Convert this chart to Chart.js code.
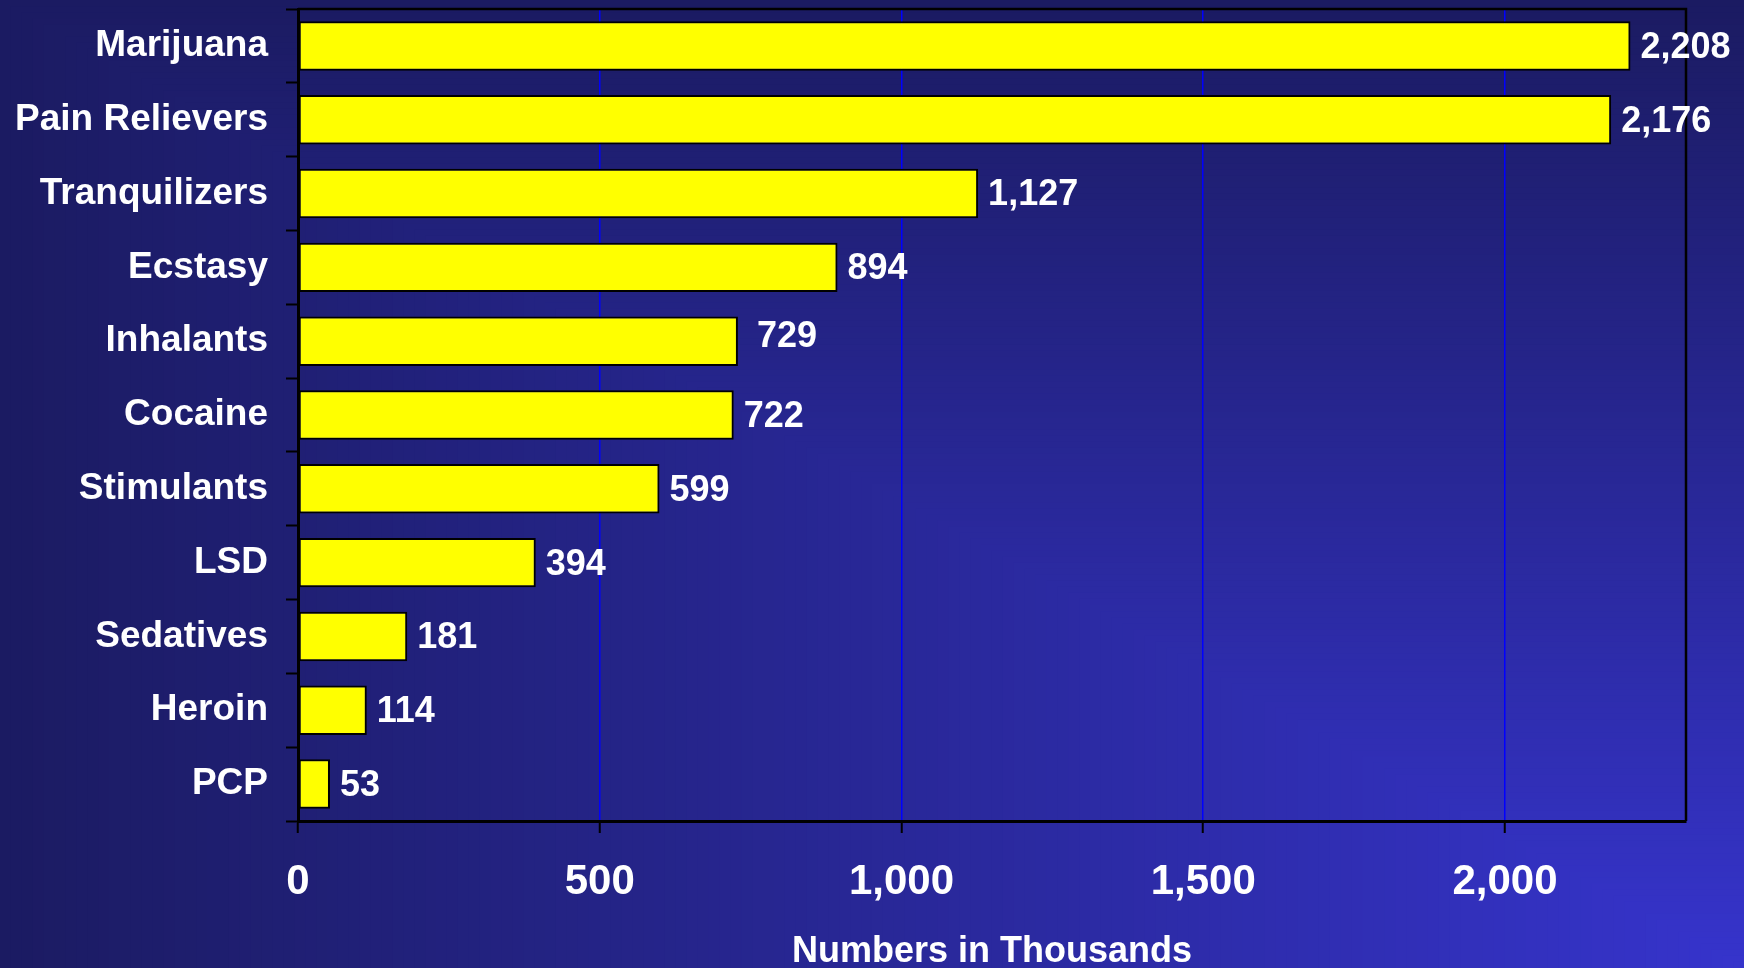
<!DOCTYPE html>
<html>
<head>
<meta charset="utf-8">
<script src="https://cdn.jsdelivr.net/npm/chart.js@4.4.1/dist/chart.umd.min.js"></script>
<style>
  html, body { margin: 0; padding: 0; background: #1c1c64; }
  #wrap { width: 1744px; height: 968px; }
</style>
</head>
<body>
<div id="wrap"><canvas id="chart-drugs"></canvas></div>
<script>
// categories and values (numbers in thousands)
const drugLabels = [
  "Marijuana", "Pain Relievers", "Tranquilizers", "Ecstasy", "Inhalants",
  "Cocaine", "Stimulants", "LSD", "Sedatives", "Heroin", "PCP"
];
const drugValues = [2208, 2176, 1127, 894, 729, 722, 599, 394, 181, 114, 53];
const xTicks = [0, 500, 1000, 1500, 2000];

const FONT = "'Liberation Sans', Arial, sans-serif";

// powerpoint style "from corner" gradient, bright at bottom right
const bgPlugin = {
  id: "bg",
  beforeDraw(chart) {
    const ctx = chart.ctx;
    const w = chart.width, h = chart.height;
    const c0 = [0x36, 0x34, 0xcc];
    const c1 = [0x1b, 0x1b, 0x62];
    const steps = 160;
    ctx.save();
    for (let i = steps; i >= 1; i--) {
      const t = i / steps;
      const r = Math.round(c0[0] + (c1[0] - c0[0]) * t);
      const g = Math.round(c0[1] + (c1[1] - c0[1]) * t);
      const b = Math.round(c0[2] + (c1[2] - c0[2]) * t);
      ctx.fillStyle = `rgb(${r},${g},${b})`;
      ctx.fillRect(w - t * w, h - t * h, t * w + 1, t * h + 1);
    }
    ctx.restore();
  },
};

// top and right border of the plot + value labels
const labelPlugin = {
  id: "valueLabels",
  afterDatasetsDraw(chart) {
    const ctx = chart.ctx;
    const a = chart.chartArea;
    ctx.save();
    ctx.strokeStyle = "#000";
    ctx.lineWidth = 2.5;
    ctx.beginPath();
    ctx.moveTo(a.left, a.top);
    ctx.lineTo(a.right, a.top);
    ctx.lineTo(a.right, a.bottom);
    ctx.stroke();

    ctx.fillStyle = "#fff";
    ctx.font = "bold 36px " + FONT;
    ctx.textAlign = "left";
    ctx.textBaseline = "middle";
    const meta = chart.getDatasetMeta(0);
    meta.data.forEach((bar, i) => {
      // the Inhalants label sits a bit off in the original
      const dx = drugLabels[i] === "Inhalants" ? 9 : 0;
      const dy = drugLabels[i] === "Inhalants" ? -6 : 0;
      ctx.fillText(drugValues[i].toLocaleString("en-US"), bar.x + 10 + dx, bar.y + 2 + dy);
    });
    ctx.restore();
  },
};

const ctxDrugs = document.getElementById("chart-drugs");
new Chart(ctxDrugs, {
  type: "bar",
  data: {
    labels: drugLabels,
    datasets: [
      {
        data: drugValues,
        backgroundColor: "#ffff00",
        borderColor: "#000000",
        borderWidth: 2,
        borderSkipped: false,
        categoryPercentage: 1,
        barPercentage: 0.67,
      },
    ],
  },
  options: {
    indexAxis: "y",
    responsive: true,
    maintainAspectRatio: false,
    animation: false,
    layout: { padding: { top: 9, right: 58, left: 0, bottom: 0 } },
    plugins: {
      legend: { display: false },
      tooltip: { enabled: false },
    },
    scales: {
      x: {
        min: 0,
        max: 2300,
        afterFit: (s) => { s.height = 147; },
        afterBuildTicks: (s) => { s.ticks = xTicks.map((v) => ({ value: v })); },
        grid: {
          color: "#0000ff",
          lineWidth: 1.5,
          tickColor: "#000",
          tickLength: 12,
          tickWidth: 2,
        },
        border: { display: true, color: "#000", width: 3 },
        ticks: {
          color: "#fff",
          padding: 24,
          font: { family: FONT, size: 42, weight: "bold" },
          callback: (v) => Number(v).toLocaleString("en-US"),
          maxRotation: 0,
        },
        title: {
          display: true,
          text: "Numbers in Thousands",
          color: "#fff",
          padding: { top: 0, bottom: 0 },
          font: { family: FONT, size: 36, weight: "bold", lineHeight: 0.9 },
        },
      },
      y: {
        afterFit: (s) => {
          s.width = 298;
          s.paddingTop = 0;
          s.paddingBottom = 0;
        },
        grid: {
          offset: true,
          drawOnChartArea: false,
          tickColor: "#000",
          tickLength: 12,
          tickWidth: 2,
        },
        border: { display: true, color: "#000", width: 3 },
        ticks: {
          color: "#fff",
          padding: 18,
          font: { family: FONT, size: 37, weight: "bold" },
        },
      },
    },
  },
  plugins: [bgPlugin, labelPlugin],
});
</script>
</body>
</html>
